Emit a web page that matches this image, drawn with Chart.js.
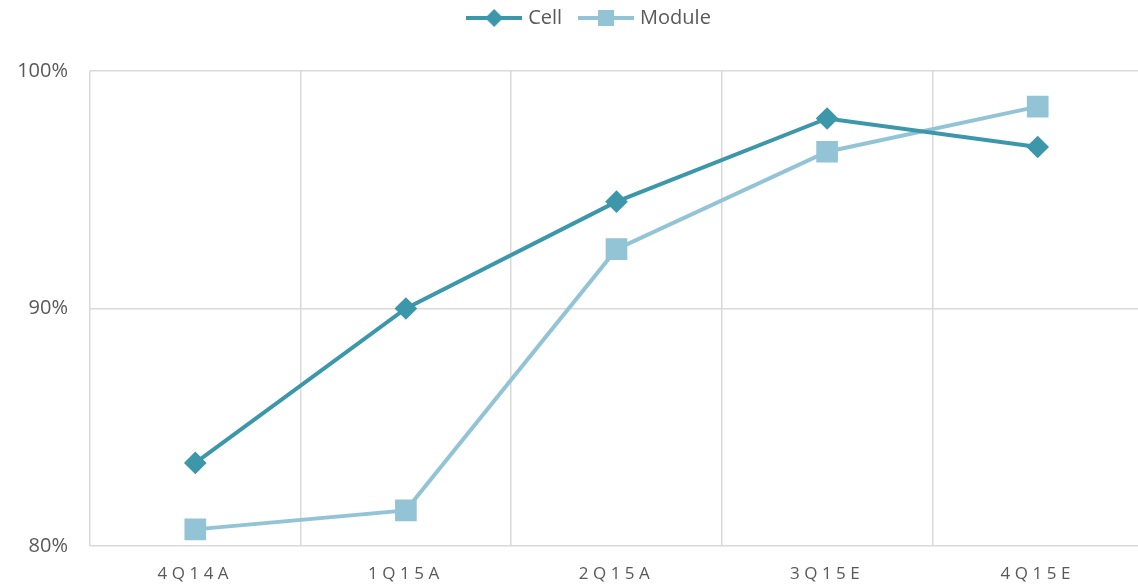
<!DOCTYPE html>
<html>
<head>
<meta charset="utf-8">
<script src="https://cdn.jsdelivr.net/npm/chart.js@4/dist/chart.umd.min.js"></script>
<style>
  html, body { margin:0; padding:0; background:#fff; overflow:hidden; }
  canvas { display:block; }
</style>
</head>
<body>
<canvas id="chart" width="1143" height="587"></canvas>
<script>
// Utilisation by quarter
const QUARTERS = ['4Q14A', '1Q15A', '2Q15A', '3Q15E', '4Q15E'];
const CELL     = [83.5, 90.0, 94.5, 98.0, 96.8];
const MODULE   = [80.7, 81.5, 92.5, 96.6, 98.5];
const Y_MIN = 80, Y_MAX = 100, Y_STEP = 10;

const CELL_COLOR   = '#3D97AA';
const MODULE_COLOR = '#93C4D6';
const TEXT = '#595959';
const GRID = '#D9D9D9';
const FONT = '"Open Sans", sans-serif';

// legend swatch: a short line with the marker in the middle
function swatch(color, shape) {
  const c = document.createElement('canvas');
  c.width = 56; c.height = 22;
  const g = c.getContext('2d');
  g.strokeStyle = color; g.lineWidth = 4;
  g.beginPath(); g.moveTo(0, 11); g.lineTo(56, 11); g.stroke();
  g.fillStyle = color;
  if (shape === 'diamond') {
    g.beginPath(); g.moveTo(28, 2); g.lineTo(37, 11); g.lineTo(28, 20); g.lineTo(19, 11); g.closePath(); g.fill();
  } else {
    g.fillRect(20, 3, 16, 16);
  }
  return c;
}
const SWATCHES = [swatch(CELL_COLOR, 'diamond'), swatch(MODULE_COLOR, 'square')];

// nudge legend to sit where the original one does
const legendShift = {
  id: 'legendShift',
  afterLayout(chart) {
    const dx = 19, dy = -33;
    const l = chart.legend;
    l.left += dx; l.right += dx;
    l.top += dy; l.bottom += dy;
  }
};

const chart = new Chart(document.getElementById('chart'), {
  type: 'line',
  data: {
    labels: QUARTERS,
    datasets: [
      { label:'Cell', data:CELL, borderColor:CELL_COLOR, backgroundColor:CELL_COLOR,
        borderWidth:4, pointStyle:'rectRot', pointRadius:8.5, pointHoverRadius:8.5, tension:0 },
      { label:'Module', data:MODULE, borderColor:MODULE_COLOR, backgroundColor:MODULE_COLOR,
        borderWidth:4, pointStyle:'rect', pointRadius:12.5, pointHoverRadius:12.5, tension:0 }
    ]
  },
  options: {
    responsive: false, animation: false,
    layout: { autoPadding: false, padding: { top: 21, left: 0, right: 0, bottom: 0 } },
    plugins: {
      tooltip: { enabled: false },
      legend: {
        position: 'top',
        labels: {
          usePointStyle: true, pointStyleWidth: 48, padding: 20,
          color: TEXT, font: { family: FONT, size: 20 },
          generateLabels(ch) {
            return ch.data.datasets.map((ds, i) => ({
              text: ds.label, pointStyle: SWATCHES[i], fillStyle: ds.borderColor,
              strokeStyle: ds.borderColor, lineWidth: 0, hidden: false, datasetIndex: i, fontColor: TEXT
            }));
          }
        }
      }
    },
    scales: {
      x: {
        offset: true,
        grid: { offset: true, color: GRID, lineWidth: 1.5, drawTicks: false },
        border: { display: false },
        ticks: { color: TEXT, font: { family: FONT, size: 17 }, padding: 18, maxRotation: 0 },
        afterFit(s) { s.height = 41; s.paddingLeft = 0; s.paddingRight = 0; }
      },
      y: {
        min: Y_MIN, max: Y_MAX,
        grid: { color: GRID, lineWidth: 1.5, drawTicks: false },
        border: { display: false },
        ticks: { stepSize: Y_STEP, color: TEXT, font: { family: FONT, size: 20 }, padding: 22,
                 callback: v => v + '%' },
        afterFit(s) { s.width = 90; }
      }
    }
  },
  plugins: [legendShift]
});

// spaced-out category labels, as in the original
const xs = chart.scales.x;
const origDraw = xs.drawLabels.bind(xs);
xs.drawLabels = function (area) {
  const ctx = this.ctx;
  ctx.save();
  ctx.letterSpacing = '4.5px';
  origDraw(area);
  ctx.restore();
};
chart.draw();
</script>
</body>
</html>
